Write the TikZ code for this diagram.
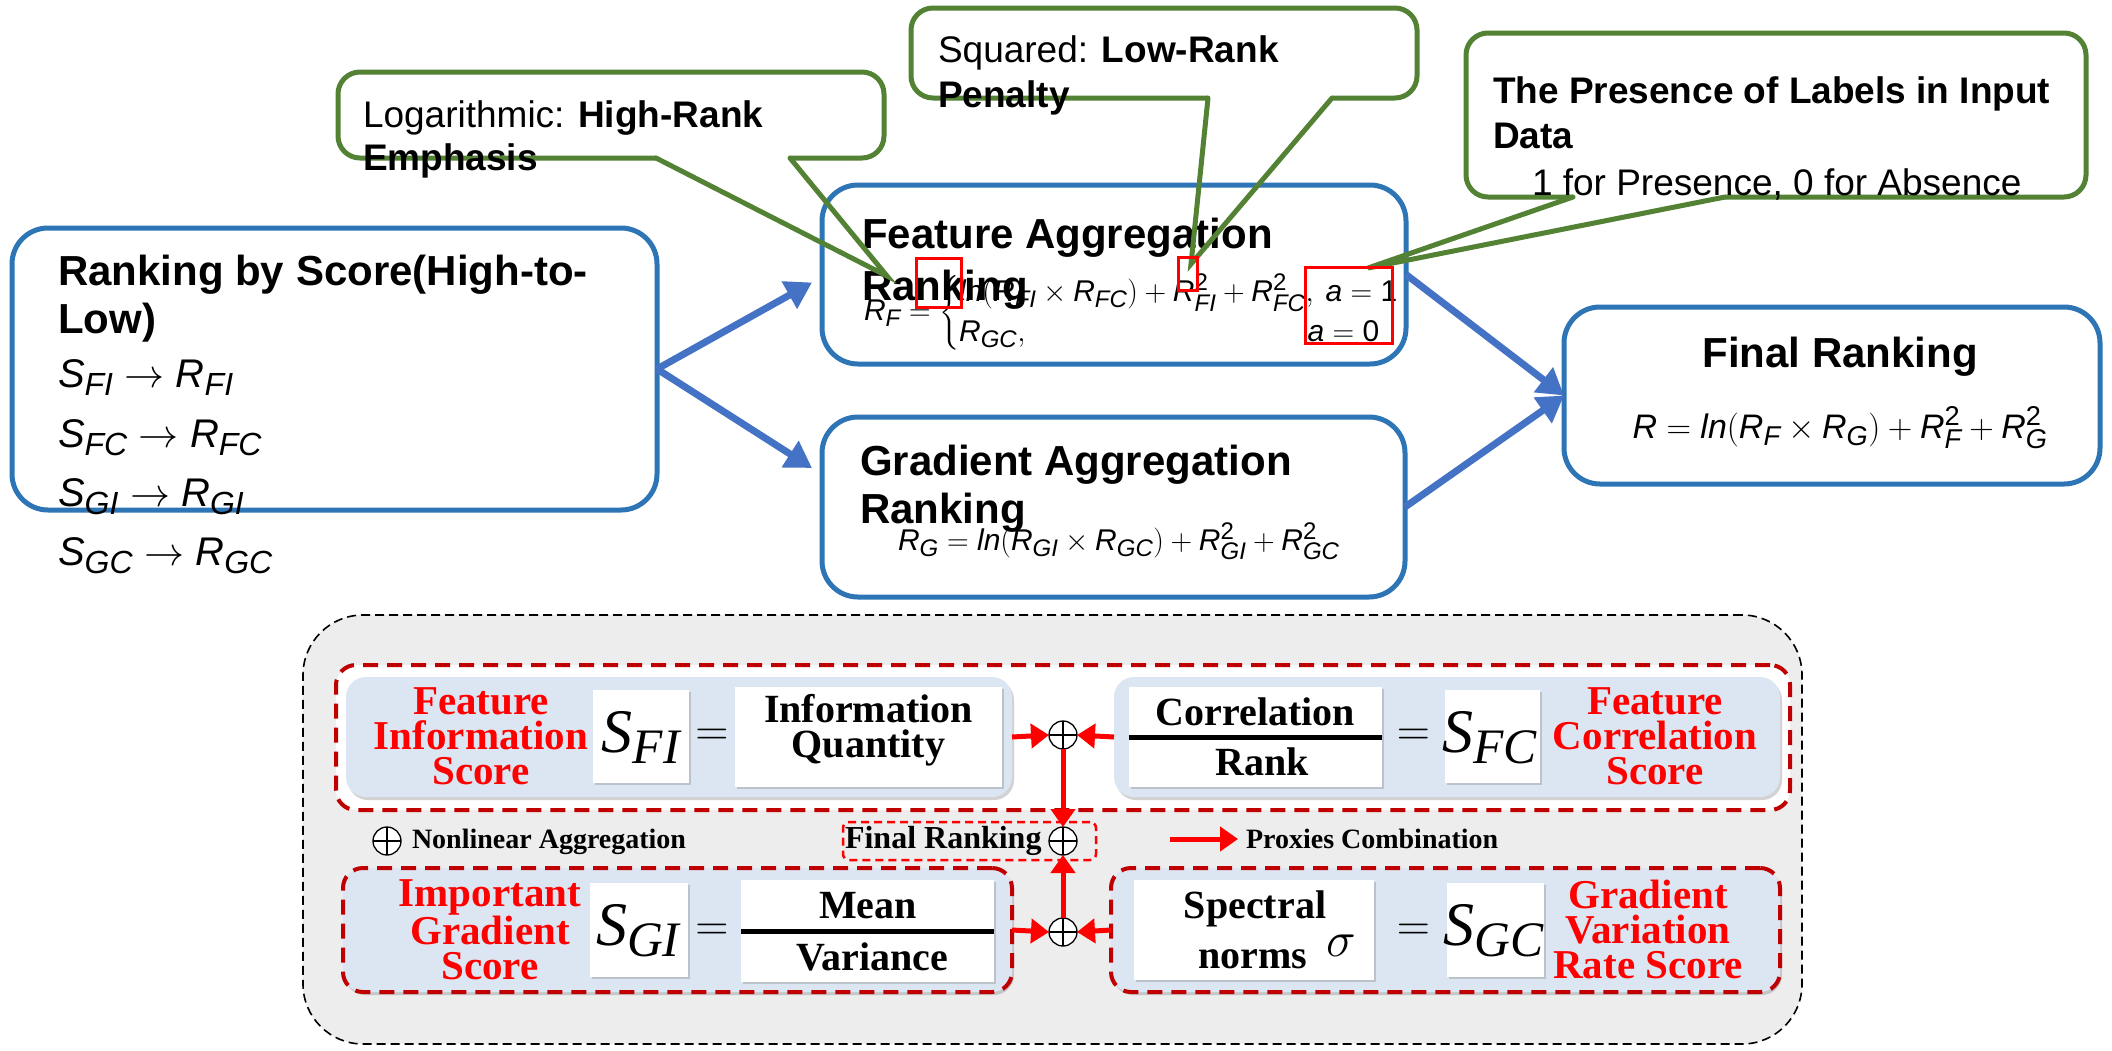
\RequirePackage{fix-cm}
\documentclass[tikz,border=0pt]{standalone}
\usepackage{amsmath}
\usepackage{fontspec}
\setmainfont{Liberation Sans}
\newfontfamily\lsans{Liberation Sans}[NFSSFamily=lsans]
\newfontfamily\tms{Liberation Serif}[NFSSFamily=lserif]
\DeclareMathAlphabet{\mathsi}{TU}{lsans}{m}{it}
\DeclareMathAlphabet{\mathsu}{TU}{lsans}{m}{n}
\DeclareMathAlphabet{\mathti}{TU}{lserif}{m}{it}
\renewcommand{\defaultscriptratio}{.8}
\usetikzlibrary{arrows.meta,shadows}
\definecolor{boxblue}{HTML}{2E75B6}
\definecolor{arrblue}{HTML}{4472C4}
\definecolor{cgreen}{HTML}{548235}
\definecolor{dred}{HTML}{C00000}
\definecolor{lblue}{HTML}{DCE6F2}
\definecolor{panelgray}{HTML}{EDEDED}
\newcommand\fsz[2]{\fontsize{#1}{#2}\selectfont}
\newcommand\Rs[1]{\mathsi{R}_{\mathsi{#1}}}
\newcommand\Ss[1]{\mathsi{S}_{\mathsi{#1}}}
\newcommand\Rq[1]{\mathsi{R}_{\mathsi{#1}}^{\mathsu{2}}}
\begin{document}
\begin{tikzpicture}[x=1pt,y=-1pt,
  every node/.style={inner sep=0pt,outer sep=0pt},
  bluebox/.style={draw=boxblue,line width=5pt,rounded corners=36pt,fill=white},
  callbox/.style={draw=cgreen,line width=5pt,rounded corners=22pt},
  callptr/.style={draw=cgreen,line width=5pt,line cap=round,line join=miter},
  bigarrow/.style={draw=arrblue,line width=7pt,-{Triangle[length=26pt,width=30pt]}},
  ttl/.style={font=\fsz{42}{50}\bfseries,anchor=base west},
  ctext/.style={font=\fsz{37}{44},anchor=base west},
  lmath/.style={font=\fsz{40}{46},anchor=base west},
  redmark/.style={draw=red,line width=3pt},
  outerpanel/.style={draw=black,line width=1.6pt,dash pattern=on 9pt off 5pt,fill=panelgray,rounded corners=60pt},
  reddash/.style={draw=dred,line width=4pt,dash pattern=on 15pt off 9pt,rounded corners=20pt},
  bluepanel/.style={fill=lblue,rounded corners=20pt,drop shadow={shadow xshift=2pt,shadow yshift=-3pt,opacity=0.35}},
  whitebox/.style={fill=white,drop shadow={shadow xshift=2pt,shadow yshift=-2pt,opacity=0.35}},
  tb/.style={font=\tms\fsz{40}{35}\bfseries},
  redlbl/.style={font=\tms\fsz{41}{35}\bfseries,text=red,align=center},
  bigS/.style={font=\tms\fsz{62}{62},anchor=base},
  eqs/.style={font=\fsz{46}{46}},
  oplus/.style={circle,draw=black,line width=1.3pt,fill=white,minimum size=28pt,
    path picture={\draw[line width=1.3pt] (path picture bounding box.north) -- (path picture bounding box.south)
      (path picture bounding box.west) -- (path picture bounding box.east);}},
  redarrow/.style={draw=red,line width=5pt,-{Triangle[length=18pt,width=24pt]}}
]
\fill[white] (0,0) rectangle (2112,1050);
\useasboundingbox (0,0) rectangle (2112,1050);

% ---------- upper diagram: boxes ----------
\node[bluebox,minimum width=645,minimum height=282] (rank) at (334.5,369) {};
\node[bluebox,minimum width=584,minimum height=179] (feat) at (1114,274.5) {};
\node[bluebox,minimum width=583,minimum height=180] (grad) at (1113.5,507) {};
\node[bluebox,minimum width=536,minimum height=177] (final) at (1832,395.5) {};

% left box text
\node[ttl] (rankt1) at (58,285) {Ranking by Score(High-to-};
\node[ttl] (rankt2) at (58,333) {Low)};
\node[lmath] (m1) at (58,387) {$\Ss{FI}\rightarrow\Rs{FI}$};
\node[lmath] (m2) at (58,447) {$\Ss{FC}\rightarrow\Rs{FC}$};
\node[lmath] (m3) at (58,506) {$\Ss{GI}\rightarrow\Rs{GI}$};
\node[lmath] (m4) at (58,565) {$\Ss{GC}\rightarrow\Rs{GC}$};

% feature box
\node[font=\fsz{30}{36},anchor=west] (ffml) at (864,313)
  {$\Rs{F}=\left\{\begin{array}{@{}l@{\hspace{12pt}}l@{}}\mathsi{ln}(\Rs{FI}\times\Rs{FC})+\Rq{FI}+\Rq{FC}, & \mathsi{a}=\mathsu{1}\\[4pt] \Rs{GC}, & \hspace*{-18pt}\mathsi{a}=\mathsu{0}\end{array}\right.$};
\node[ttl] (featt1) at (862,248) {Feature Aggregation};
\node[ttl] (featt2) at (862,300) {Ranking};

% gradient box
\node[ttl] (gradt1) at (860,475) {Gradient Aggregation};
\node[ttl] (gradt2) at (860,523) {Ranking};
\node[font=\fsz{30}{36},anchor=base west] (gfml) at (898,550)
  {$\Rs{G}=\mathsi{ln}(\Rs{GI}\times\Rs{GC})+\Rq{GI}+\Rq{GC}$};

% final box
\node[font=\fsz{42}{50}\bfseries,anchor=base] (fint) at (1840,367) {Final Ranking};
\node[font=\fsz{34}{40},anchor=base] (finf) at (1840,438)
  {$\mathsi{R}=\mathsi{ln}(\Rs{F}\times\Rs{G})+\Rq{F}+\Rq{G}$};

% blue arrows
\draw[bigarrow] (rank.east) -- ([shift={(-10,8)}]feat.west);
\draw[bigarrow] (rank.east) -- ([shift={(-10,-39)}]grad.west);
\draw[bigarrow] (feat.east) -- (final.west);
\draw[bigarrow] (grad.east) -- (final.west);

% ---------- callouts ----------
\node[callbox,minimum width=546,minimum height=86] (logc) at (611,115) {};
\node[callbox,minimum width=506,minimum height=90] (sqc) at (1164,53) {};
\node[callbox,minimum width=620,minimum height=164] (prc) at (1776,115) {};
\coordinate (logb1) at (656,158);
\coordinate (logb2) at (790,158);
\coordinate (logtip) at (887,276);
\coordinate (sqb1) at (1208,98);
\coordinate (sqb2) at (1332,98);
\coordinate (sqtip) at (1191,264);
\coordinate (prb1) at (1573,197);
\coordinate (prb2) at (1725,197);
\coordinate (prtip) at (1368,268);
\draw[white,line width=7pt] (logb1) -- (logb2);
\draw[white,line width=7pt] (sqb1) -- (sqb2);
\draw[white,line width=7pt] (prb1) -- (prb2);
\draw[callptr] (logb1) -- (logtip) -- (logb2);
\draw[callptr] (sqb1) -- (sqtip) -- (sqb2);
\draw[callptr] (prb1) -- (prtip) -- (prb2);

\node[ctext] (logt1) at (363,127) {Logarithmic: \textbf{High-Rank}};
\node[ctext] (logt2) at (363,170) {\textbf{Emphasis}};
\node[ctext] (sqt1) at (938,62) {Squared: \textbf{Low-Rank}};
\node[ctext] (sqt2) at (938,107) {\textbf{Penalty}};
\node[ctext] (prt1) at (1493,103) {\textbf{The Presence of Labels in Input}};
\node[ctext] (prt2) at (1493,148) {\textbf{Data}};
\node[ctext] (prt3) at (1532,195) {1 for Presence, 0 for Absence};

% red marks
\node[redmark,minimum width=45,minimum height=49] (mA) at (938.5,282.5) {};
\node[redmark,minimum width=19,minimum height=33] (mB) at (1187.5,273.5) {};
\node[redmark,minimum width=87,minimum height=76] (mC) at (1348.5,305) {};

% ---------- lower panel ----------
\node[outerpanel,minimum width=1499,minimum height=429] (outer) at (1052.5,829.5) {};
\node[reddash,fill=white,minimum width=1454,minimum height=145] (toprow) at (1063,737.5) {};
\node[bluepanel,minimum width=666,minimum height=120] (ptl) at (679,737) {};
\node[bluepanel,minimum width=666,minimum height=120] (ptr) at (1447,737) {};
\node[bluepanel,reddash,minimum width=669,minimum height=124] (pbl) at (677.5,930) {};
\node[bluepanel,reddash,minimum width=669,minimum height=124] (pbr) at (1445.5,930) {};

\node[whitebox,minimum width=96,minimum height=93] (sfi) at (641,736.5) {};
\node[whitebox,minimum width=267,minimum height=100] (iq) at (868.5,737) {};
\node[whitebox,minimum width=253,minimum height=100] (corr) at (1255.5,737) {};
\node[whitebox,minimum width=95,minimum height=93] (sfc) at (1492.5,736.5) {};
\node[whitebox,minimum width=98,minimum height=94] (sgi) at (639,930) {};
\node[whitebox,minimum width=253,minimum height=102] (mv) at (867.5,931) {};
\node[whitebox,minimum width=240,minimum height=100] (spec) at (1254,930) {};
\node[whitebox,minimum width=97,minimum height=94] (sgc) at (1495.5,930) {};

% red labels
\node[redlbl] (lfi) at (481,736.5) {Feature\\Information\\Score};
\node[redlbl] (lfc) at (1655,736.5) {Feature\\Correlation\\Score};
\node[redlbl] (lgi) at (490,929.5) {Important\\Gradient\\Score};
\node[redlbl] (lgc) at (1648,929) {Gradient\\Variation\\Rate Score};

% S symbols
\node[bigS] (tsfi) at (641,752) {$\mathti{S}_{\mathti{FI}}$};
\node[bigS] (tsfc) at (1490,752) {$\mathti{S}_{\mathti{FC}}$};
\node[bigS] (tsgi) at (638,945) {$\mathti{S}_{\mathti{GI}}$};
\node[bigS] (tsgc) at (1494,945) {$\mathti{S}_{\mathti{GC}}$};
\node[eqs] (eq1) at (712,737) {$=$};
\node[eqs] (eq2) at (1413.5,737) {$=$};
\node[eqs] (eq3) at (712,932) {$=$};
\node[eqs] (eq4) at (1413.5,932) {$=$};

% box texts
\node[tb,anchor=base] (iq1) at (868.5,722) {Information};
\node[tb,anchor=base] (iq2) at (868.5,757) {Quantity};
\node[tb,anchor=base] (co1) at (1255.5,725) {Correlation};
\node[tb,anchor=base] (co2) at (1262,775) {Rank};
\draw[line width=5pt] (corr.west) -- (corr.east);
\node[tb,anchor=base] (mv1) at (868,918) {Mean};
\node[tb,anchor=base] (mv2) at (872,970) {Variance};
\draw[line width=5pt] (mv.west) -- (mv.east);
\node[tb,anchor=base] (sp1) at (1255,918) {Spectral};
\node[tb,anchor=base west] (sp2) at (1198,968) {norms};
\node[font=\fsz{50}{50},anchor=base west] (sig) at (1326,956) {$\sigma$};

% aggregation circles and arrows
\node[reddash,draw=red,line width=2.5pt,dash pattern=on 8pt off 5pt,rounded corners=6pt,minimum width=253,minimum height=38] (frbox) at (969.5,841) {};
\node[tb,font=\tms\fsz{32}{32}\bfseries,anchor=base west] (frt) at (845,848) {Final Ranking};
\node[oplus] (c1) at (1063,735) {};
\node[oplus] (c2) at (1063,841) {};
\node[oplus] (c3) at (1063,932) {};
\draw[redarrow] (ptl.east) -- (c1.west);
\draw[redarrow] (ptr.west) -- (c1.east);
\draw[redarrow] (pbl.east) -- (c3.west);
\draw[redarrow] (pbr.west) -- (c3.east);
\draw[redarrow] (c1.south) -- (c2.north);
\draw[redarrow] (c3.north) -- (c2.south);

% legend
\node[oplus] (lgc) at (387,841) {};
\node[font=\tms\fsz{28}{28}\bfseries,anchor=base west] (lgt1) at (412,848) {Nonlinear Aggregation};
\coordinate (la1) at (1170,839);
\coordinate (la2) at (1238,839);
\draw[redarrow] (la1) -- (la2);
\node[font=\tms\fsz{28}{28}\bfseries,anchor=base west] (lgt2) at (1246,848) {Proxies Combination};
\end{tikzpicture}
\end{document}
